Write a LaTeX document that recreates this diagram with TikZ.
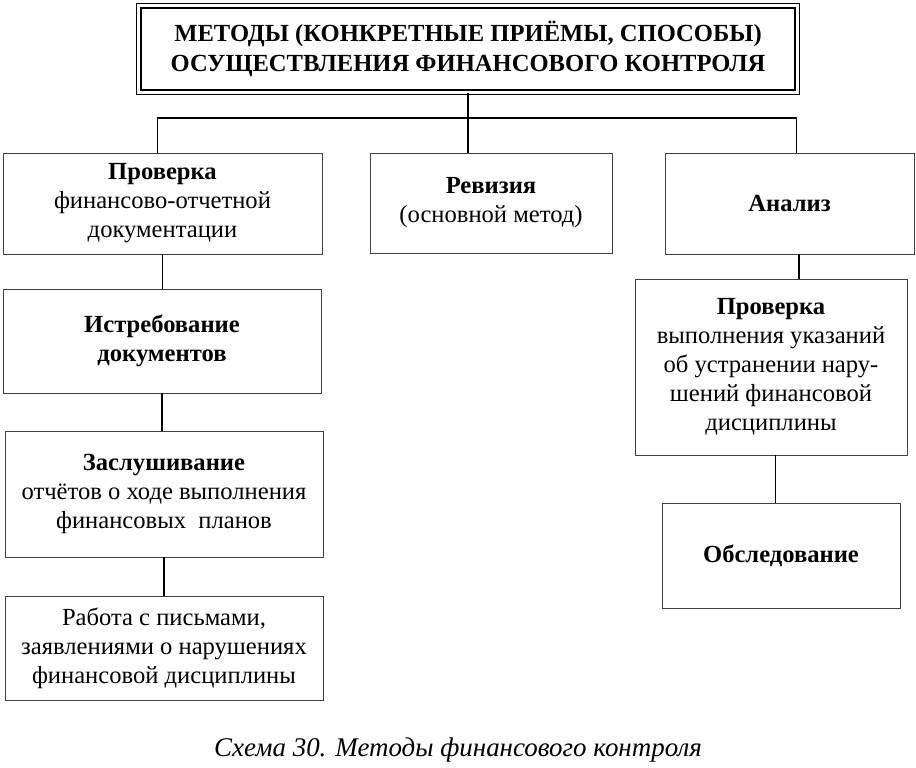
\documentclass[tikz,border=0pt]{standalone}
\usepackage{fontspec}
\setmainfont{Liberation Serif}
\usetikzlibrary{positioning}

\tikzset{
  block/.style={draw=black!75, line width=0.7pt, align=center, inner sep=2pt,
    font=\fontsize{21}{24.8}\selectfont},
  link/.style={draw=black, line width=1.1pt},
}

\begin{document}
\begin{tikzpicture}[x=0.03cm, y=-0.03cm]
		\useasboundingbox (0,0) rectangle (916,768);
		% title with a double frame
		\node[draw, line width=1.3pt, double, double distance=2.4pt,
			minimum width=19.75cm, minimum height=2.6cm, align=center,
			font=\bfseries\fontsize{21}{26}\selectfont] (title) at (468,49)
			{МЕТОДЫ (КОНКРЕТНЫЕ ПРИЁМЫ, СПОСОБЫ)\\ОСУЩЕСТВЛЕНИЯ ФИНАНСОВОГО КОНТРОЛЯ};
		% first row
		\node[block, minimum width=9.57cm, minimum height=3.03cm] (check) at (162.5,203.5)
			{\textbf{Проверка}\\финансово-отчетной\\документации};
		\node[block, minimum width=7.26cm, minimum height=3cm] (audit) at (491,203)
			{\textbf{Ревизия}\\(основной метод)};
		\node[block, minimum width=7.47cm, minimum height=3.03cm] (analysis) at (789.5,203.5)
			{\textbf{Анализ}};
		% left column
		\node[block, minimum width=9.54cm, minimum height=3.12cm] (demand) at (162,341)
			{\textbf{Истребование}\\\textbf{документов}};
		\node[block, minimum width=9.54cm, minimum height=3.78cm] (hearing) at (164,494)
			{\textbf{Заслушивание}\\отчётов о ходе выполнения\\финансовых\ \ планов};
		\node[block, minimum width=9.54cm, minimum height=3.12cm] (letters) at (164,648)
			{Работа с письмами,\\заявлениями о нарушениях\\финансовой дисциплины};
		% right column
		\node[block, minimum width=8.16cm, minimum height=5.28cm] (followup) at (771,367)
			{\textbf{Проверка}\\выполнения указаний\\об устранении нару-\\шений финансовой\\дисциплины};
		\node[block, minimum width=7.14cm, minimum height=3.15cm] (survey) at (781,555.5)
			{\textbf{Обследование}};
		% caption
		\node[font=\itshape\fontsize{23}{26}\selectfont] (caption) at (458,750)
			{Схема 30. Методы финансового контроля};

		% connectors
		\coordinate (bus) at (468,118);
		\draw[link] (title.south) -- (title.south |- audit.north);
		\draw[link] ([xshift=-4pt]check.north) |- (bus) -| ([xshift=6pt]analysis.north);
		\draw[link] (check.south) -- (check.south |- demand.north);
		\draw[link] (demand.south) -- (demand.south |- hearing.north);
		\draw[link] (hearing.south) -- (hearing.south |- letters.north);
		\draw[link] ([xshift=8pt]analysis.south) -- ([xshift=8pt]analysis.south |- followup.north);
		\draw[link] ([xshift=4pt]followup.south) -- ([xshift=4pt]followup.south |- survey.north);
	\end{tikzpicture}
\end{document}
